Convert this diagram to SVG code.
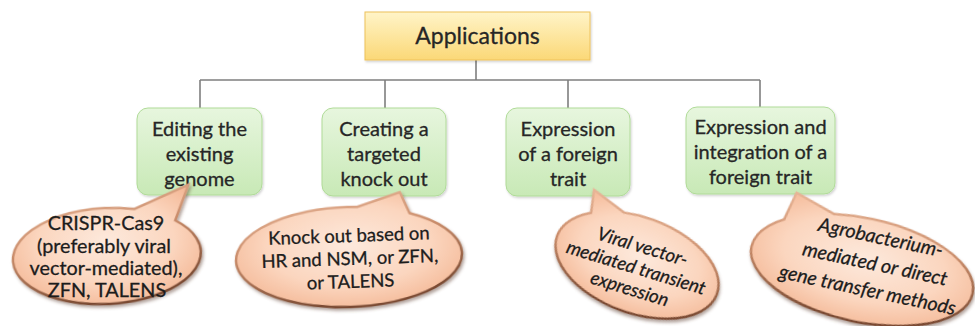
<svg xmlns="http://www.w3.org/2000/svg" width="975" height="326" viewBox="0 0 975 326">
<defs>
<linearGradient id="gY" x1="0" y1="0" x2="0" y2="1"><stop offset="0" stop-color="#fff4c8"/><stop offset="1" stop-color="#fbd877"/></linearGradient>
<linearGradient id="gG" x1="0" y1="0" x2="0" y2="1"><stop offset="0" stop-color="#e7f6de"/><stop offset="1" stop-color="#c8e9b6"/></linearGradient>
<radialGradient id="gP" cx="0.5" cy="0.45" r="0.6"><stop offset="0" stop-color="#fde9dc"/><stop offset="0.6" stop-color="#fbd6bf"/><stop offset="1" stop-color="#f4b896"/></radialGradient>
<linearGradient id="gS" x1="0" y1="0" x2="0.3" y2="1"><stop offset="0" stop-color="#eab89a"/><stop offset="0.5" stop-color="#c98c6a"/><stop offset="1" stop-color="#7a4a32"/></linearGradient>
<filter id="sh" x="-10%" y="-10%" width="125%" height="130%"><feDropShadow dx="1.5" dy="2.5" stdDeviation="1.5" flood-color="#5a3a2a" flood-opacity="0.45"/></filter>
<filter id="bs" x="-10%" y="-10%" width="125%" height="130%"><feDropShadow dx="1" dy="1.5" stdDeviation="1" flood-color="#000" flood-opacity="0.18"/></filter>
</defs>
<style>
.t{font-family:Lato,"Open Sans","Liberation Sans",sans-serif;fill:#262626;stroke:#262626;stroke-width:0.3;text-anchor:middle}
.hd{font-size:23px}
.bx{font-size:20px}
.co{font-size:18.5px;fill:#1c1c1c;stroke:#1c1c1c}
.c1{font-size:19.8px}
.c4{font-size:19.5px}
.it{font-style:italic}
.box{fill:url(#gG);stroke:#b0db98;stroke-width:1}
.ap{fill:url(#gY);stroke:#eec25a;stroke-width:1}
.call{fill:url(#gP);stroke:url(#gS);stroke-width:2.5;filter:url(#sh)}
.ln{stroke:#7f7f7f;stroke-width:1.6;fill:none}
</style>

<g id="connectors">
<path class="ln" d="M476 60 V80 M200 80 H760 M200 80 V108 M385 80 V108 M568 80 V108 M760 80 V108"/>
</g>

<g id="applications">
<rect class="ap" x="365" y="12" width="225" height="48" filter="url(#bs)"/>
<text class="t hd" x="477.5" y="44">Applications</text>
</g>

<g id="editing">
<rect class="box" x="137" y="108" width="125" height="87" rx="11" filter="url(#bs)"/>
<text class="t bx" x="199.5" y="136">Editing the</text>
<text class="t bx" x="199.5" y="161">existing</text>
<text class="t bx" x="199.5" y="186">genome</text>
</g>

<g id="knockout">
<rect class="box" x="322" y="108" width="124" height="88" rx="11" filter="url(#bs)"/>
<text class="t bx" x="384" y="136">Creating a</text>
<text class="t bx" x="384" y="161">targeted</text>
<text class="t bx" x="384" y="186">knock out</text>
</g>

<g id="expression">
<rect class="box" x="506" y="108" width="124" height="88" rx="11" filter="url(#bs)"/>
<text class="t bx" x="568" y="136">Expression</text>
<text class="t bx" x="568" y="161">of a foreign</text>
<text class="t bx" x="568" y="186">trait</text>
</g>

<g id="integration">
<rect class="box" x="686" y="107" width="149" height="87" rx="11" filter="url(#bs)"/>
<text class="t bx" x="760.5" y="134">Expression and</text>
<text class="t bx" x="760.5" y="159">integration of a</text>
<text class="t bx" x="760.5" y="184">foreign trait</text>
</g>

<g id="callout-crispr">
<path class="call" transform="translate(107,256) rotate(-3)" d="M70 -32 A94 48 0 1 1 30 -45.5 L85 -67 Z"/>
<text class="t co c1" x="106" y="230">CRISPR-Cas9</text>
<text class="t co c1" x="104" y="253">(preferably viral</text>
<text class="t co c1" x="106" y="275">vector-mediated),</text>
<text class="t co c1" x="107" y="297">ZFN, TALENS</text>
</g>

<g id="callout-knockout">
<path class="call" transform="translate(349,257) rotate(-2)" d="M62 -41.8 A113 50 0 1 1 10 -49.8 L53 -63 Z"/>
<g transform="rotate(-2,350,265)">
<text class="t co" x="350" y="242">Knock out based on</text>
<text class="t co" x="350" y="265">HR and NSM, or ZFN,</text>
<text class="t co" x="350" y="288">or TALENS</text>
</g>
</g>

<g id="callout-viral">
<path class="call" transform="translate(637,265) rotate(20)" d="M-30 -44.9 A85 48 0 1 1 -61 -33.4 L-66 -56 Z"/>
<g transform="translate(636,268) rotate(17)">
<text class="t co it" x="0" y="-16">Viral vector-</text>
<text class="t co it" x="0" y="6">mediated transient</text>
<text class="t co it" x="0" y="28">expression</text>
</g>
</g>

<g id="callout-agro">
<path class="call" transform="translate(862,270) rotate(12)" d="M-38.6 -48.9 A113 52 0 1 1 -86.6 -33.4 L-80 -62 Z"/>
<g transform="translate(875,264) rotate(12)">
<text class="t co c4 it" x="0" y="-20.5">Agrobacterium-</text>
<text class="t co c4 it" x="0" y="6.5">mediated or direct</text>
<text class="t co c4 it" x="-2" y="33.5">gene transfer methods</text>
</g>
</g>
</svg>
